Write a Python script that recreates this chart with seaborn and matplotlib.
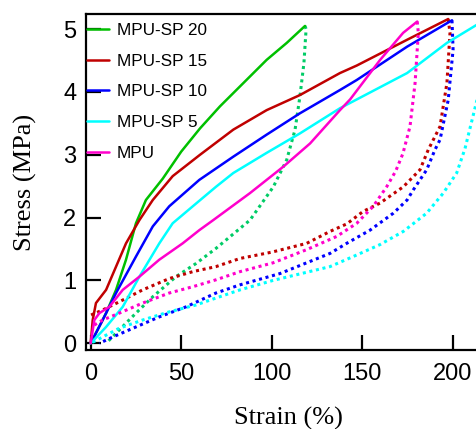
import matplotlib
matplotlib.use("Agg")
import matplotlib.pyplot as plt
import seaborn as sns

# loading (solid) and unloading (dotted) curves, strain in %, stress in MPa
sp20_load_x = [0, 8.5, 14, 19.5, 25, 30.5, 39.8, 50, 60.4, 71.4, 84.3, 97.2, 108.3, 118.4]
sp20_load_y = [0, 0.48, 0.85, 1.33, 1.91, 2.28, 2.62, 3.05, 3.42, 3.77, 4.14, 4.51, 4.78, 5.05]
sp20_unl_x = [118.4, 119, 117.8, 115.6, 112.9, 108.3, 100.9, 88, 69.2, 58.2, 47.1, 34.3, 25, 14, 8.5]
sp20_unl_y = [5.05, 5.0, 4.46, 3.93, 3.4, 2.92, 2.49, 1.96, 1.51, 1.27, 1.06, 0.74, 0.48, 0.16, 0.0]

sp15_load_x = [0, 1.1, 2.9, 8.5, 14, 19.5, 26.9, 34.3, 45.3, 60.4, 78.8, 97.2, 115.6, 137.7, 147, 174.8, 197.5]
sp15_load_y = [0, 0.37, 0.64, 0.85, 1.22, 1.59, 1.96, 2.28, 2.66, 3.0, 3.4, 3.71, 3.95, 4.3, 4.42, 4.83, 5.16]
sp15_unl_x = [197.5, 198.5, 196.8, 193, 186.5, 181.9, 172.7, 159.8, 150.6, 141.5, 132.2, 119.3, 100, 82.5,
              69.2, 56.4, 43.4, 28.7, 15.8, 6.6, 0.2]
sp15_unl_y = [5.16, 4.94, 4.14, 3.45, 3.08, 2.76, 2.49, 2.23, 2.1, 1.9, 1.78, 1.59, 1.45, 1.35,
              1.22, 1.14, 1.03, 0.85, 0.66, 0.53, 0.45]

sp10_load_x = [0, 6.6, 14, 25, 34.3, 43.4, 60, 78.8, 97.2, 115.6, 137.7, 147, 174.8, 199.6]
sp10_load_y = [0, 0.37, 0.8, 1.38, 1.86, 2.18, 2.6, 2.97, 3.32, 3.66, 4.03, 4.19, 4.72, 5.14]
sp10_unl_x = [199.6, 200.2, 197.5, 193, 190.2, 185.6, 178.2, 174.8, 167.2, 154.3, 141.4, 132.2, 104.6,
              82.5, 69.2, 52.7, 37.9, 25, 12.2, 4.8]
sp10_unl_y = [5.14, 4.67, 3.87, 3.24, 3.08, 2.76, 2.44, 2.28, 2.07, 1.8, 1.59, 1.43, 1.11,
              0.93, 0.8, 0.58, 0.42, 0.26, 0.1, 0.0]

sp5_load_x = [0, 8.5, 17.7, 26.9, 37.9, 45.3, 56.4, 69.2, 78.8, 97.2, 115.6, 137.7, 174.8, 196.8, 213.4, 218]
sp5_load_y = [0, 0.26, 0.58, 1.06, 1.59, 1.91, 2.18, 2.49, 2.71, 3.03, 3.34, 3.74, 4.3, 4.78, 5.07, 5.14]
sp5_unl_x = [218, 216, 213.4, 206.8, 202.2, 194.8, 185.6, 172.7, 159.8, 145, 132.2, 100.7, 82.5,
             69.2, 58.2, 43.4, 28.7, 15.8, 6.6, 0]
sp5_unl_y = [5.14, 4.5, 3.87, 3.1, 2.71, 2.39, 2.07, 1.78, 1.57, 1.38, 1.22, 1.0, 0.85,
             0.72, 0.61, 0.5, 0.37, 0.24, 0.1, 0.0]

mpu_load_x = [0, 2, 4.8, 10.3, 17.7, 26.9, 37.9, 50.8, 60, 67.7, 88, 106.4, 121.2, 137.7, 143.3, 159.9, 172.6, 180.4]
mpu_load_y = [0, 0.37, 0.48, 0.58, 0.85, 1.06, 1.33, 1.59, 1.8, 1.96, 2.39, 2.81, 3.18, 3.71, 3.88, 4.51, 4.94, 5.12]
mpu_unl_x = [180.4, 181, 179.2, 176.4, 172.5, 168.5, 163.5, 156.1, 147, 135.9, 119.3, 100.7, 82.5,
             69.2, 56.4, 43.4, 28.7, 15.8, 6.6, 0.2]
mpu_unl_y = [5.12, 4.94, 4.14, 3.45, 3.02, 2.74, 2.49, 2.18, 1.91, 1.7, 1.49, 1.28, 1.14,
             1.01, 0.9, 0.8, 0.64, 0.48, 0.37, 0.26]

labels = ['MPU-SP 20', 'MPU-SP 15', 'MPU-SP 10', 'MPU-SP 5', 'MPU']
colors = ['#00c000', '#c00000', '#0000ff', '#00ffff', '#ff00cc']
dot_colors = ['#00cc66', '#c00000', '#0000ff', '#00ffff', '#ff00cc']

curves = [
    (sp20_load_x, sp20_load_y, sp20_unl_x, sp20_unl_y),
    (sp15_load_x, sp15_load_y, sp15_unl_x, sp15_unl_y),
    (sp10_load_x, sp10_load_y, sp10_unl_x, sp10_unl_y),
    (sp5_load_x, sp5_load_y, sp5_unl_x, sp5_unl_y),
    (mpu_load_x, mpu_load_y, mpu_unl_x, mpu_unl_y),
]

sns.set_style('ticks', rc={'axes.edgecolor': 'black', 'xtick.color': 'black', 'ytick.color': 'black',
                           'text.color': 'black', 'axes.labelcolor': 'black'})
fig = plt.figure(figsize=(4.77, 4.29), dpi=100)
ax = fig.add_axes([86 / 477, 1 - 350 / 429, 404 / 477, 336 / 429])

for (lx, ly, ux, uy), lab, c, dc in zip(curves, labels, colors, dot_colors):
    sns.lineplot(x=ux, y=uy, sort=False, estimator=None, ax=ax, color=dc,
                 linestyle=(0, (1, 1.2)), linewidth=2.2)
    sns.lineplot(x=lx, y=ly, sort=False, estimator=None, ax=ax, color=c,
                 linewidth=1.8, label=lab)

ax.set_xlim(-2.6, 220.6)
ax.set_ylim(-0.107, 5.24)
ax.set_xticks([0, 50, 100, 150, 200])
ax.set_yticks([0, 1, 2, 3, 4, 5])

ax.spines['right'].set_visible(False)
for s in ['left', 'bottom', 'top']:
    ax.spines[s].set_linewidth(1.6)
ax.tick_params(direction='in', length=11, width=1.6, labelsize=17, pad=7)
ax.tick_params(axis='x', pad=9)
for t in ax.get_xticklabels() + ax.get_yticklabels():
    t.set_fontfamily('Liberation Sans')

ax.set_xlabel('Strain (%)', fontfamily='Liberation Serif', fontsize=19, labelpad=16)
ax.set_ylabel('Stress (MPa)', fontfamily='Liberation Serif', fontsize=19, labelpad=19)

ax.legend(loc='upper left', bbox_to_anchor=(0.0, 1 - 8 / 336), frameon=False,
          borderaxespad=0, borderpad=0.05, handlelength=1.3,
          handletextpad=0.45, labelspacing=0.92,
          prop={'family': 'Liberation Sans', 'size': 12.3})

fig.savefig('out.png', dpi=100)
